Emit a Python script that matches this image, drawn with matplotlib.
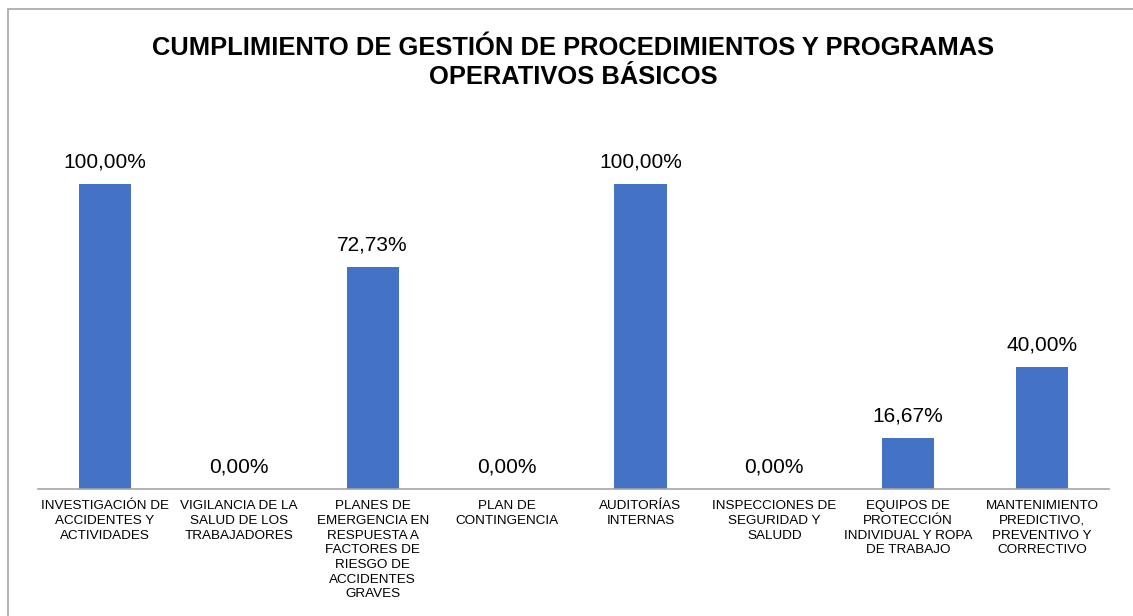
import matplotlib.pyplot as plt
from matplotlib.patches import Rectangle

plt.rcParams['font.family'] = ['Liberation Sans', 'DejaVu Sans']

# Datos
categorias = [
    "INVESTIGACIÓN DE\nACCIDENTES Y\nACTIVIDADES",
    "VIGILANCIA DE LA\nSALUD DE LOS\nTRABAJADORES",
    "PLANES DE\nEMERGENCIA EN\nRESPUESTA A\nFACTORES DE\nRIESGO DE\nACCIDENTES\nGRAVES",
    "PLAN DE\nCONTINGENCIA",
    "AUDITORÍAS\nINTERNAS",
    "INSPECCIONES DE\nSEGURIDAD Y\nSALUDD",
    "EQUIPOS DE\nPROTECCIÓN\nINDIVIDUAL Y ROPA\nDE TRABAJO",
    "MANTENIMIENTO\nPREDICTIVO,\nPREVENTIVO Y\nCORRECTIVO",
]
cumplimiento = [1.0, 0.0, 0.7273, 0.0, 1.0, 0.0, 0.1667, 0.40]

W, H = 1133, 616
fig = plt.figure(figsize=(W / 100, H / 100), dpi=100)

# marco del grafico (solo se ve arriba y a la izquierda)
fig.patches.append(Rectangle((8 / W, -0.1), 1.2, 1.1 - 9 / H, transform=fig.transFigure,
                             fill=False, edgecolor='#A6A6A6', linewidth=1.2))

ax = fig.add_axes([38 / W, 127 / H, (1109 - 38) / W, (489 - 123) / H])
x = range(len(categorias))
barras = ax.bar(x, cumplimiento, width=0.39, color='#4472C4')

for b, v in zip(barras, cumplimiento):
    etiqueta = f"{v * 100:.2f}%".replace('.', ',')
    ax.annotate(etiqueta, (b.get_x() + b.get_width() / 2, v), xytext=(0, 9),
                textcoords='offset points', ha='center', va='bottom', fontsize=15)

ax.set_xlim(-0.5, len(categorias) - 0.5)
ax.set_ylim(0, 1.2)
ax.set_yticks([])
ax.set_xticks(list(x))
ax.set_xticklabels(categorias, fontsize=9.7, linespacing=1.3, va='top')
ax.tick_params(axis='x', length=0, pad=8)
for s in ['top', 'right', 'left']:
    ax.spines[s].set_visible(False)
ax.spines['bottom'].set_color('#A6A6A6')
ax.spines['bottom'].set_linewidth(1.2)

fig.text(573 / W, 1 - 36 / H, "CUMPLIMIENTO DE GESTIÓN DE PROCEDIMIENTOS Y PROGRAMAS\nOPERATIVOS BÁSICOS",
         ha='center', va='top', fontsize=18.4, fontweight='bold', linespacing=1.25)

fig.savefig('out.png', dpi=100)
